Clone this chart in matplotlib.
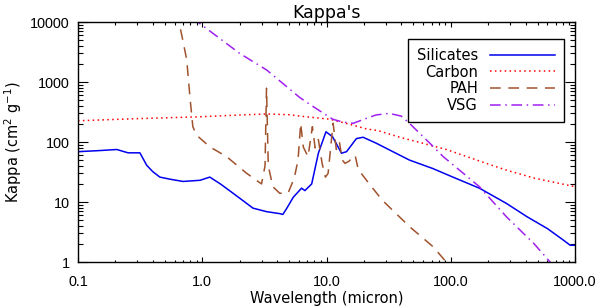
import numpy as np
import matplotlib
matplotlib.use("Agg")
import matplotlib.pyplot as plt
from matplotlib.ticker import FixedLocator, LogLocator, NullFormatter

# values (wavelength in micron, kappa in cm^2/g)
sil_wav = [0.1, 0.15, 0.205, 0.253, 0.315, 0.357, 0.40, 0.456, 0.55, 0.70, 0.96, 1.15,
           1.4, 1.77, 2.2, 2.56, 3.3, 4.2, 4.45, 4.8, 5.4, 6.3, 6.7, 7.6, 8.6, 9.9, 11.2,
           13.2, 14.5, 17.4, 19.7, 25, 32, 46.5, 72, 104, 170, 280, 410, 600, 810, 915, 1000]
sil_kap = [69, 72, 75, 66, 66, 41, 32, 26, 24, 22, 23, 26,
           20, 14, 10, 7.9, 6.9, 6.4, 6.2, 7.9, 12, 17, 15.5, 20, 65, 148, 122,
           65, 69, 114, 120, 96, 74, 50, 36, 26, 17, 9.5, 5.7, 3.6, 2.3, 1.9, 1.9]

carb_wav = [0.1, 0.3, 0.95, 2.0, 3.3, 5.0, 6.1, 10.6, 15, 21, 26, 40, 60, 92, 120, 200, 280, 470, 1000]
carb_kap = [226, 245, 263, 282, 293, 285, 270, 240, 200, 165, 155, 118, 95, 75, 62, 43, 34, 25, 18]

pah_wav = [0.62, 0.65, 0.70, 0.75, 0.80, 0.84, 0.90, 1.15, 1.57, 2.28, 3.0, 3.2, 3.29, 3.4,
           3.7, 4.2, 4.9, 5.5, 5.9, 6.2, 6.5, 7.1, 7.7, 8.1, 8.6, 9.2, 9.8, 10.3, 11.3,
           12.0, 12.7, 13.4, 14.1, 15.2, 16.4, 17.0, 18.0, 21, 28, 46.5, 72, 92, 100]
pah_kap = [15000, 10000, 4800, 2340, 500, 180, 130, 83, 57, 30, 20, 40, 790, 40,
           18, 14, 14, 25, 50, 205, 83, 57, 180, 80, 110, 45, 26, 30, 205,
           75, 100, 50, 44, 48, 57, 60, 35, 23, 10.8, 3.9, 1.8, 1.0, 0.8]

vsg_wav = [0.85, 0.92, 2.0, 3.3, 6.1, 7.8, 11.2, 13.5, 16.4, 21, 25, 32, 40, 46.5, 68, 87,
           170, 280, 470, 630, 700]
vsg_kap = [12500, 10000, 3000, 1585, 550, 390, 240, 215, 205, 248, 282, 300, 270, 205, 95, 57,
           18, 5.7, 2.0, 1.0, 0.8]

xticks = [0.1, 1.0, 10.0, 100.0, 1000.0]
xticklabels = ["0.1", "1.0", "10.0", "100.0", "1000.0"]
yticks = [1, 10, 100, 1000, 10000]
yticklabels = ["1", "10", "100", "1000", "10000"]

plt.rcParams['font.family'] = ['DejaVu Sans']
plt.rcParams['font.size'] = 10.5

fig = plt.figure(figsize=(6, 3.08), dpi=100)
ax = fig.add_axes([78/600, 46/308, 497/600, 240/308])

ax.plot(sil_wav, sil_kap, color='#0000ee', lw=1.1, label='Silicates')
ax.plot(carb_wav, carb_kap, color='#ff0000', lw=1.1, linestyle=(0, (1, 2.2)), label='Carbon')
ax.plot(pah_wav, pah_kap, color='#a0522d', lw=1.1, linestyle=(0, (7, 5)), label='PAH')
ax.plot(vsg_wav, vsg_kap, color='#a020f0', lw=1.1, linestyle=(0, (7, 3, 1, 3)), label='VSG')

ax.set_xscale('log')
ax.set_yscale('log')
ax.set_xlim(0.1, 1000)
ax.set_ylim(1, 10000)

ax.xaxis.set_major_locator(FixedLocator(xticks))
ax.set_xticklabels(xticklabels, fontfamily='Liberation Sans', fontsize=10.4)
ax.yaxis.set_major_locator(FixedLocator(yticks))
ax.set_yticklabels(yticklabels, fontfamily='Liberation Sans', fontsize=10.4)
ax.xaxis.set_minor_locator(LogLocator(base=10, subs=np.arange(2, 10), numticks=20))
ax.yaxis.set_minor_locator(LogLocator(base=10, subs=np.arange(2, 10), numticks=20))
ax.xaxis.set_minor_formatter(NullFormatter())
ax.yaxis.set_minor_formatter(NullFormatter())

ax.tick_params(axis='x', which='major', direction='in', top=True, length=3.5, width=0.8, pad=9)
ax.tick_params(axis='x', which='minor', direction='in', top=True, length=1.8, width=0.8)
ax.tick_params(axis='y', which='major', direction='in', right=True, length=7.2, width=0.8, pad=6)
ax.tick_params(axis='y', which='minor', direction='in', right=True, length=3.6, width=0.8)
for s in ax.spines.values():
    s.set_linewidth(1.0)

ax.set_title("Kappa's", pad=3, fontsize=12.5)
ax.set_xlabel('Wavelength (micron)', labelpad=2)
ax.set_ylabel('Kappa (cm$^2$ g$^{-1}$)', labelpad=4)

leg = ax.legend(loc='upper right', bbox_to_anchor=(0.978, 0.929), markerfirst=False,
                fancybox=False, framealpha=1, edgecolor='black', handlelength=4.5,
                handletextpad=0.8, labelspacing=0.12, borderpad=0.6, borderaxespad=0)
leg.get_frame().set_linewidth(1.0)

fig.savefig('out.png', dpi=100)
